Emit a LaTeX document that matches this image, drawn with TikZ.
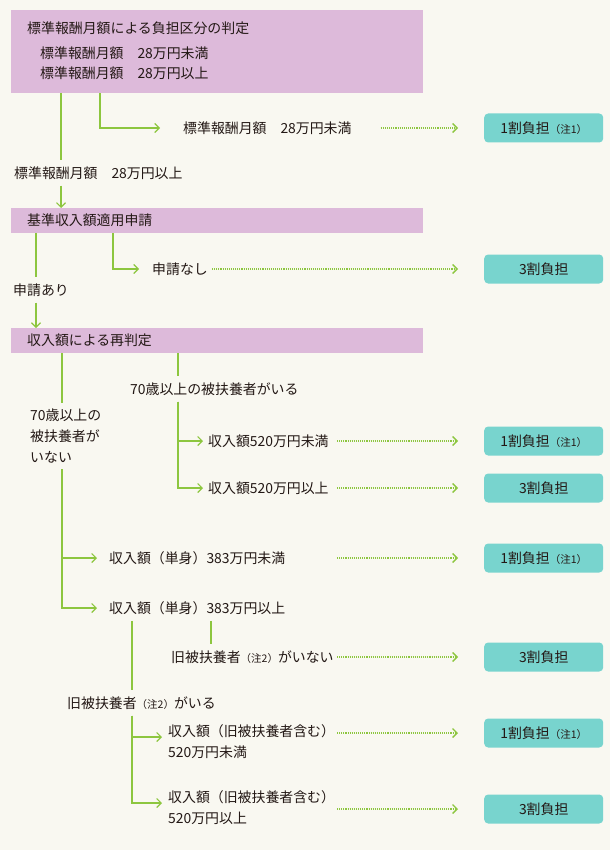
\documentclass[tikz,border=0pt]{standalone}
\usepackage{fontspec}
\setmainfont{Noto Sans CJK JP}
\usetikzlibrary{arrows.meta,positioning}
\definecolor{paper}{HTML}{F9F8F1}
\definecolor{lilac}{HTML}{DDBADA}
\definecolor{seafoam}{HTML}{78D4CE}
\definecolor{leaf}{HTML}{8DC63F}
\definecolor{ink}{HTML}{231815}
\newcommand{\chu}[1]{{\fontsize{10.5pt}{11pt}\selectfont （注#1）}}

\begin{document}
\begin{tikzpicture}[x=1pt, y=-1pt, >={Straight Barb[length=4.5pt,width=9pt]},
    lbl/.style={anchor=west, inner xsep=0pt, inner ysep=6pt, text=ink,
      font=\fontsize{13.9pt}{21pt}\selectfont, align=left},
    headbox/.style={anchor=north west, fill=lilac, text width=380pt, inner xsep=16pt,
      inner ysep=0pt, minimum height=25pt, text=ink, font=\fontsize{13.9pt}{21pt}\selectfont, align=left},
    result/.style={anchor=west, fill=seafoam, rounded corners=4pt, minimum width=119pt,
      minimum height=29pt, inner sep=0pt, text=ink, font=\fontsize{13.9pt}{21pt}\selectfont},
    link/.style={leaf, line width=1.1pt},
    dotlink/.style={leaf, line width=1.3pt, dash pattern=on 1.1pt off 1pt, ->}]
      % background
      \fill[paper] (0,0) rectangle (610,850);
      \useasboundingbox (0,0) rectangle (610,850);
      % columns of the branch lines
      \coordinate (colA) at (61,0);
      \coordinate (colB) at (100,0);
      \coordinate (colC) at (36,0);
      \coordinate (colD) at (113,0);
      \coordinate (colE) at (178,0);
      \coordinate (colF) at (62,0);
      \coordinate (colG) at (211,0);
      \coordinate (colH) at (132,0);
      \coordinate (dotcol) at (337,0);
      \coordinate (tip) at (458,0);

      % first judgement
      \node[headbox, minimum height=83pt] (judge) at (11,10) {};
      \node[lbl] (judgeT) at (27,28) {標準報酬月額による負担区分の判定};
      \node[lbl] (judgeL) at (40,53) {標準報酬月額　28万円未満};
      \node[lbl] (judgeH) at (40,73) {標準報酬月額　28万円以上};
      \node[lbl] (stdLow) at (183,128) {標準報酬月額　28万円未満};
      \node[result] (r1) at (484,128) {1割負担\chu{1}};
      \node[lbl] (stdHigh) at (14,173) {標準報酬月額　28万円以上};

      % application
      \node[headbox] (apply) at (11,208) {基準収入額適用申請};
      \node[lbl] (applyNo) at (152,269) {申請なし};
      \node[result] (r2) at (484,269) {3割負担};
      \node[lbl] (applyYes) at (13,290) {申請あり};

      % second judgement
      \node[headbox] (recheck) at (11,328) {収入額による再判定};
      \node[lbl] (depYes) at (130,389) {70歳以上の被扶養者がいる};
      \node[lbl] (depNo) at (30,436) {70歳以上の\\被扶養者が\\いない};
      \node[lbl] (incLow) at (208,441) {収入額520万円未満};
      \node[result] (r3) at (484,441) {1割負担\chu{1}};
      \node[lbl] (incHigh) at (208,488) {収入額520万円以上};
      \node[result] (r4) at (484,488) {3割負担};
      \node[lbl] (sglLow) at (109,558) {収入額（単身）383万円未満};
      \node[result] (r5) at (484,558) {1割負担\chu{1}};
      \node[lbl] (sglHigh) at (109,608) {収入額（単身）383万円以上};
      \node[lbl] (oldNo) at (171,657) {旧被扶養者\chu{2}がいない};
      \node[result] (r6) at (484,657) {3割負担};
      \node[lbl] (oldYes) at (67,703) {旧被扶養者\chu{2}がいる};
      \node[lbl] (oldLow) at (168,742) {収入額（旧被扶養者含む）\\520万円未満};
      \node[result] (r7) at (484,733) {1割負担\chu{1}};
      \node[lbl] (oldHigh) at (168,808) {収入額（旧被扶養者含む）\\520万円以上};
      \node[result] (r8) at (484,809) {3割負担};

      % lines out of the first box
      \draw[link] (judge.south -| colA) -- (stdHigh.north -| colA);
      \draw[link,->] (stdHigh.south -| colA) -- (apply.north -| colA);
      \draw[link,->] (judge.south -| colB) |- ([xshift=-23pt]stdLow.west);
      \draw[dotlink] ([xshift=29pt]stdLow.east) -- (tip |- stdLow.east);
      % lines out of the application
      \draw[link] (apply.south -| colC) -- (applyYes.north -| colC);
      \draw[link,->] (applyYes.south -| colC) -- (recheck.north -| colC);
      \draw[link,->] (apply.south -| colD) |- ([xshift=-13pt]applyNo.west);
      \draw[dotlink] ([xshift=4pt]applyNo.east) -- (tip |- applyNo.east);
      % dependants over 70
      \draw[link] (recheck.south -| colE) -- (depYes.north -| colE);
      \draw[link,->] (depYes.south -| colE) |- ([xshift=-5pt]incLow.west);
      \draw[link,->] (depYes.south -| colE) |- ([xshift=-5pt]incHigh.west);
      \draw[dotlink] (dotcol |- r3.west) -- (tip |- r3.west);
      \draw[dotlink] (dotcol |- r4.west) -- (tip |- r4.west);
      % no dependants over 70
      \draw[link] (recheck.south -| colF) -- (depNo.north -| colF);
      \draw[link,->] (depNo.south -| colF) |- ([xshift=-12pt]sglLow.west);
      \draw[link,->] (depNo.south -| colF) |- ([xshift=-12pt]sglHigh.west);
      \draw[dotlink] (dotcol |- r5.west) -- (tip |- r5.west);
      \draw[link] (sglHigh.south -| colG) -- (oldNo.north -| colG);
      \draw[dotlink] (dotcol |- r6.west) -- (tip |- r6.west);
      \draw[link] (sglHigh.south -| colH) -- (oldYes.north -| colH);
      \draw[link,->] (oldYes.south -| colH) |- ([xshift=-6pt,yshift=5pt]oldLow.west);
      \draw[link,->] (oldYes.south -| colH) |- ([xshift=-6pt,yshift=5pt]oldHigh.west);
      \draw[dotlink] (dotcol |- r7.west) -- (tip |- r7.west);
      \draw[dotlink] (dotcol |- r8.west) -- (tip |- r8.west);
\end{tikzpicture}
\end{document}
